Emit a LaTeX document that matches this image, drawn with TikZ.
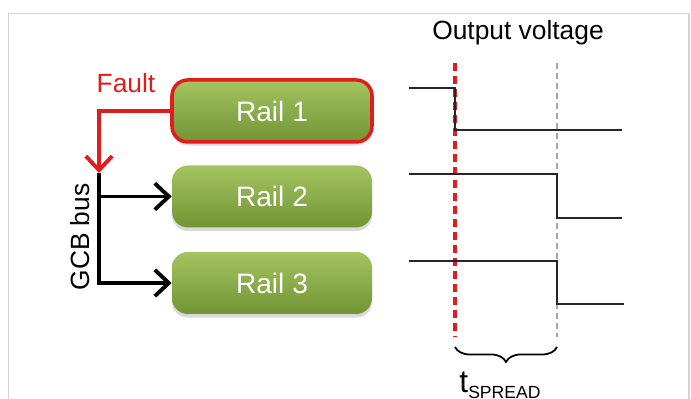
\documentclass[tikz,border=0pt]{standalone}
\usepackage{fontspec}
\setmainfont{Liberation Sans}
\usepackage{tikz}
\usetikzlibrary{positioning,arrows.meta,shadows,decorations.pathreplacing,calc}

\definecolor{railtop}{RGB}{163,196,96}
\definecolor{railbot}{RGB}{114,148,52}
\definecolor{faultred}{RGB}{226,28,28}
\definecolor{framegray}{RGB}{212,212,212}

\tikzset{
  rail/.style={rectangle, rounded corners=9pt, minimum width=4cm, minimum height=1.24cm,
    top color=railtop, bottom color=railbot, text=white, font=\fontsize{16}{19}\selectfont,
    drop shadow={opacity=0.3, shadow xshift=0pt, shadow yshift=-2pt}},
  bus/.style={line width=2.2pt, -{Straight Barb[length=8pt,width=15pt]}},
  wave/.style={line width=1.1pt, black!85},
  label/.style={font=\fontsize{15}{18}\selectfont}
}

\begin{document}
\begin{tikzpicture}
    \useasboundingbox (0,0) rectangle (13.82,7.98);
    % Frame
    \draw[framegray, line width=1.1pt] (0.17,0) -- (0.17,7.71) -- (13.78,7.71) -- (13.78,0);

    % Rails
    \node[rail, draw=faultred, line width=2pt] (rail1) at (5.44,5.76) {Rail 1};
    \node[rail] (rail2) at (5.44,4.05) {Rail 2};
    \node[rail] (rail3) at (5.44,2.32) {Rail 3};

    % GCB bus
    \coordinate (bus) at (1.98,4.52);
    \draw[bus, faultred] (rail1.west) -| (bus);
    \draw[bus] (bus) |- (rail3.west);
    \draw[bus] (bus |- rail2.west) -- (rail2.west);
    \node[label, text=faultred] (fault) at (2.52,6.32) {Fault};
    \node[label, rotate=90] (gcb) at (1.6,3.24) {GCB bus};

    % Output voltage
    \node[label] (out) at (10.36,7.32) {Output voltage};
    \coordinate (tf) at (9.1,6.72);
    \coordinate (ts) at (11.14,6.72);
    \draw[faultred, line width=2.4pt, dash pattern=on 0.16cm off 0.1cm] (tf) -- ++(0,-5.48) coordinate (tf end);
    \draw[gray!70, line width=0.7pt, dash pattern=on 0.12cm off 0.08cm] (ts) -- ++(0,-5.48) coordinate (ts end);
    \draw[wave] (8.18,6.22) -- ++(0.92,0) -- ++(0,-0.84) -- ++(3.34,0);
    \draw[wave] (8.18,4.5) -- ++(2.96,0) -- ++(0,-0.88) -- ++(1.3,0);
    \draw[wave] (8.18,2.76) -- ++(2.96,0) -- ++(0,-0.86) -- ++(1.34,0);
    \draw[line width=1pt, decorate, decoration={brace, mirror, amplitude=0.3cm}]
        ($(tf end)+(0,-0.2)$) -- ($(ts end)+(0,-0.2)$);
    \node[anchor=base] (spread) at (10.0,0.12)
        {\fontsize{18}{20}\selectfont t\raisebox{-0.3ex}{\fontsize{10}{12}\selectfont SPREAD}};
\end{tikzpicture}
\end{document}
